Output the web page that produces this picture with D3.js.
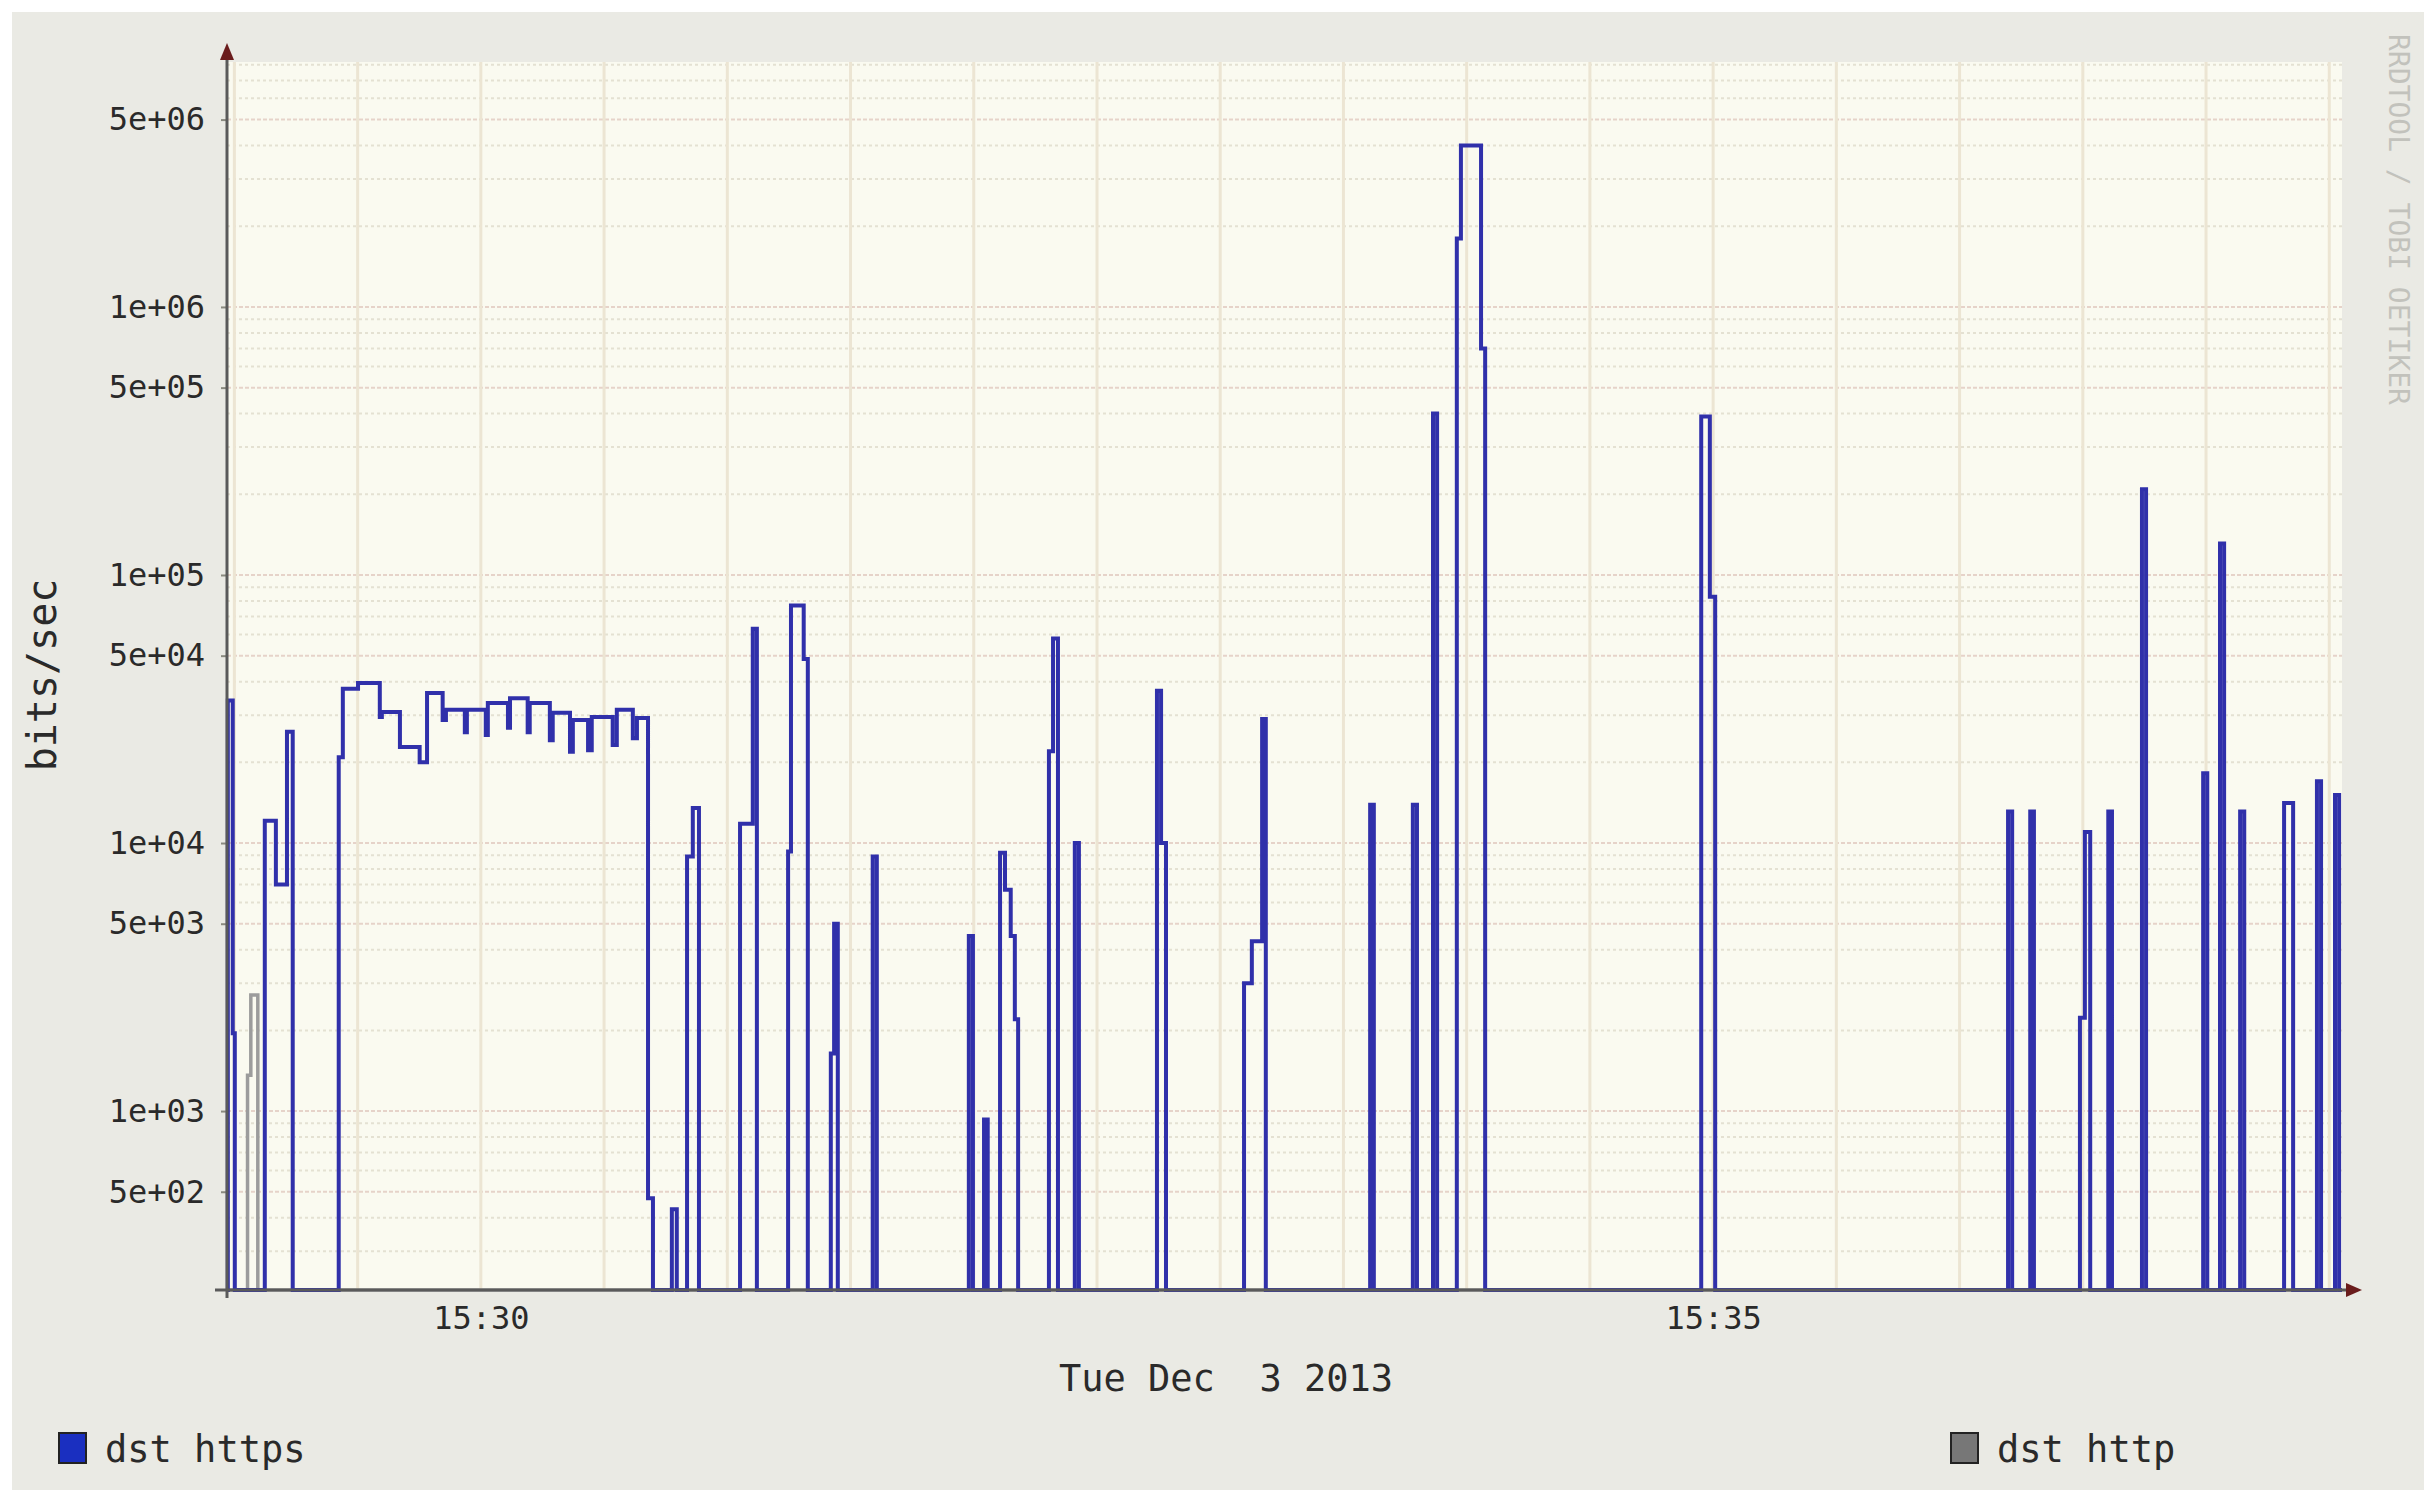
<!DOCTYPE html>
<html><head><meta charset="utf-8">
<script src="https://cdn.jsdelivr.net/npm/d3@7"></script>
<style>html,body{margin:0;padding:0;background:#fff;} svg{display:block;}</style>
</head><body>
<svg id="chart" width="2424" height="1490"></svg>
<script>
// ---------------- data (seconds relative to 15:30:00, bits/sec) ----------------
const baseTime = new Date(2013, 11, 3, 15, 30, 0);
const timeStartSec = -61.8;
const timeEndSec = 453.1;

const httpsTimes = [
  -61.6, -60.4, -59.9,
  -52.6, -49.9, -47.2, -45.8,
  -34.6, -33.6, -29.9, -24.6, -24.1, -19.7, -14.9, -13.1, -9.3, -8.5, -3.9, -3.4,
  1.2, 1.7, 6.6, 7.1, 11.4, 11.9, 16.8, 17.5, 21.7, 22.4, 26.1, 27.0, 32.1, 33.1,
  37.0, 38.0, 40.7, 41.9,
  46.5, 47.7,
  50.2, 51.6, 53.1,
  63.1, 66.2, 67.2,
  74.8, 75.5, 78.6, 79.6,
  85.2, 86.0, 86.9,
  95.4, 96.4,
  118.8, 119.8,
  122.5, 123.4,
  126.4, 127.6, 129.0, 130.0, 130.8,
  138.3, 139.3, 140.5,
  144.6, 145.6,
  164.6, 165.6, 166.8,
  185.8, 187.7, 190.2, 191.1,
  216.5, 217.4,
  226.9, 227.9,
  231.8, 232.8,
  237.6, 238.6, 243.5, 244.5,
  297.1, 299.2, 300.5,
  371.8, 372.8,
  377.2, 378.1,
  389.3, 390.5, 391.8,
  396.2, 397.1,
  404.4, 405.4,
  419.3, 420.3,
  423.4, 424.4,
  428.3, 429.3,
  439.0, 441.2,
  447.0, 448.0,
  451.4, 452.4
];
const httpsValues = [
  34000, 1950, 0,
  12100, 7000, 26000, 0,
  20900, 37600, 39500, 29500, 30800, 22800, 20000, 36300, 28800, 31400, 25900, 31400,
  25300, 33300, 26900, 34700, 25900, 33300, 24200, 30600, 21900, 28800, 22200, 29500, 23200, 31400,
  24600, 29300, 473, 0,
  430, 0,
  8900, 13500, 0,
  11800, 63000, 0,
  9300, 77000, 48600, 0,
  1640, 5000, 0,
  8900, 0,
  4500, 0,
  930, 0,
  9200, 6700, 4500, 2200, 0,
  22000, 58000, 0,
  10000, 0,
  37000, 10000, 0,
  3000, 4300, 29000, 0,
  13900, 0,
  13900, 0,
  400000, 0,
  1800000, 4000000, 700000, 0,
  390000, 83000, 0,
  13100, 0,
  13100, 0,
  2230, 11000, 0,
  13100, 0,
  209000, 0,
  18200, 0,
  131000, 0,
  13100, 0,
  14100, 0,
  17000, 0,
  15100, 0
];

const httpTimes  = [-56.8, -56.0, -54.3];
const httpValues = [1360, 2710, 0];

const yTickValues = [5e2, 1e3, 5e3, 1e4, 5e4, 1e5, 5e5, 1e6, 5e6];
const yTickLabels = ["5e+02", "1e+03", "5e+03", "1e+04", "5e+04", "1e+05", "5e+05", "1e+06", "5e+06"];
const xTickSeconds = [0, 300];
const xTickLabels = ["15:30", "15:35"];
const yAxisMin = 215, yAxisMax = 8.2e6;

const seriesNames = ["dst https", "dst http"];
const seriesColors = ["#3030aa", "#9c9c9c"];
const legendColors = ["#1a2fc0", "#777777"];

// ---------------- layout ----------------
const W = 2424, H = 1490;
const plot = {left: 227, right: 2342, top: 62, bottom: 1290};
const toDate = s => new Date(baseTime.getTime() + s * 1000);

const svg = d3.select("#chart");
const mono = "'DejaVu Sans Mono', 'Liberation Mono', monospace";

svg.append("rect").attr("x", 12).attr("y", 12).attr("width", W - 12).attr("height", H - 12).attr("fill", "#eaeae4");
svg.append("rect").attr("x", plot.left).attr("y", plot.top)
  .attr("width", plot.right - plot.left).attr("height", plot.bottom - plot.top).attr("fill", "#fafaf0");

const x = d3.scaleTime().domain([toDate(timeStartSec), toDate(timeEndSec)]).range([plot.left, plot.right]);
const y = d3.scaleLog().domain([yAxisMin, yAxisMax]).range([plot.bottom, plot.top]);

// horizontal grid (minor at every integer multiple, major at labelled values)
const minorVals = [];
for (let e = 2; e <= 6; e++) for (let m = 1; m <= 9; m++) {
  const v = m * Math.pow(10, e);
  if (v > yAxisMin && v < yAxisMax) minorVals.push(v);
}
const gGrid = svg.append("g");
gGrid.selectAll("line.minor").data(minorVals.filter(v => !yTickValues.includes(v))).join("line")
  .attr("x1", plot.left).attr("x2", plot.right)
  .attr("y1", d => y(d)).attr("y2", d => y(d))
  .attr("stroke", "#e4e1d2").attr("stroke-width", 2).attr("stroke-dasharray", "3,3");
gGrid.selectAll("line.major").data(yTickValues).join("line")
  .attr("x1", plot.left).attr("x2", plot.right)
  .attr("y1", d => y(d)).attr("y2", d => y(d))
  .attr("stroke", "#e6d3c9").attr("stroke-width", 2).attr("stroke-dasharray", "4,2");
// vertical grid every 30 s
const vTicks = x.ticks(d3.timeSecond.every(30));
gGrid.selectAll("line.v").data(vTicks).join("line")
  .attr("x1", d => x(d)).attr("x2", d => x(d))
  .attr("y1", plot.top).attr("y2", plot.bottom)
  .attr("stroke", "#ece5d3").attr("stroke-width", 3);

// series lines
function series(times, values) {
  const pts = [{t: timeStartSec, v: 0}];
  times.forEach((t, i) => pts.push({t: t, v: values[i]}));
  pts.push({t: timeEndSec, v: 0});
  return pts;
}
const line = d3.line().curve(d3.curveStepAfter)
  .x(d => x(toDate(d.t)))
  .y(d => d.v > 0 ? y(d.v) : plot.bottom);
svg.append("path").datum(series(httpTimes, httpValues)).attr("d", line)
  .attr("fill", "none").attr("stroke", seriesColors[1]).attr("stroke-width", 3.5);
svg.append("path").datum(series(httpsTimes, httpsValues)).attr("d", line)
  .attr("fill", "none").attr("stroke", seriesColors[0]).attr("stroke-width", 4)
  .attr("stroke-linejoin", "miter");

// axes
const yAxis = d3.axisLeft(y).tickValues(yTickValues)
  .tickFormat((d, i) => yTickLabels[i]).tickSize(6).tickPadding(16);
const gy = svg.append("g").attr("transform", `translate(${plot.left},0)`).call(yAxis);
gy.select(".domain").remove();
gy.selectAll(".tick line").attr("stroke", "#8a8a80").attr("stroke-width", 2);
gy.selectAll(".tick text").attr("font-family", mono).attr("font-size", 32).attr("fill", "#2a2a2a");

const xAxis = d3.axisBottom(x).tickValues(xTickSeconds.map(toDate))
  .tickFormat((d, i) => xTickLabels[i]).tickSize(0).tickPadding(16);
const gx = svg.append("g").attr("transform", `translate(0,${plot.bottom})`).call(xAxis);
gx.select(".domain").remove();
gx.selectAll(".tick text").attr("font-family", mono).attr("font-size", 32).attr("fill", "#2a2a2a");

// axis lines and arrows
svg.append("line").attr("x1", plot.left).attr("x2", plot.left).attr("y1", plot.bottom + 8).attr("y2", 54)
  .attr("stroke", "#5a5a5a").attr("stroke-width", 3);
svg.append("line").attr("x1", plot.left - 12).attr("x2", plot.right + 8).attr("y1", plot.bottom).attr("y2", plot.bottom)
  .attr("stroke", "#5a5a5a").attr("stroke-width", 3);
svg.append("path").attr("d", `M${plot.left - 7},${60} L${plot.left},${43} L${plot.left + 7},${60} Z`).attr("fill", "#6a1c1c");
svg.append("path").attr("d", `M${plot.right + 4},${plot.bottom - 7} L${plot.right + 20},${plot.bottom} L${plot.right + 4},${plot.bottom + 7} Z`).attr("fill", "#6a1c1c");

// labels
svg.append("text").attr("transform", "translate(42,675) rotate(-90)")
  .attr("text-anchor", "middle").attr("dominant-baseline", "central")
  .attr("font-family", mono).attr("font-size", 40).attr("fill", "#2a2a2a").text("bits/sec");
svg.append("text").attr("x", 1226).attr("y", 1378)
  .attr("text-anchor", "middle").attr("dominant-baseline", "central")
  .attr("font-family", mono).attr("font-size", 37).attr("fill", "#2a2a2a")
  .attr("xml:space", "preserve").style("white-space", "pre").text("Tue Dec  3 2013");
svg.append("text").attr("transform", "translate(2398,34) rotate(90)")
  .attr("dominant-baseline", "central")
  .attr("font-family", mono).attr("font-size", 28).attr("fill", "#c2c2bc").text("RRDTOOL / TOBI OETIKER");

// legend
const legendX = [59, 1951];
seriesNames.forEach((name, i) => {
  svg.append("rect").attr("x", legendX[i]).attr("y", 1433).attr("width", 27).attr("height", 30)
    .attr("fill", legendColors[i]).attr("stroke", "#222").attr("stroke-width", 2);
  svg.append("text").attr("x", legendX[i] + 46).attr("y", 1449)
    .attr("dominant-baseline", "central")
    .attr("font-family", mono).attr("font-size", 37).attr("fill", "#2a2a2a").text(name);
});
</script>
</body></html>
